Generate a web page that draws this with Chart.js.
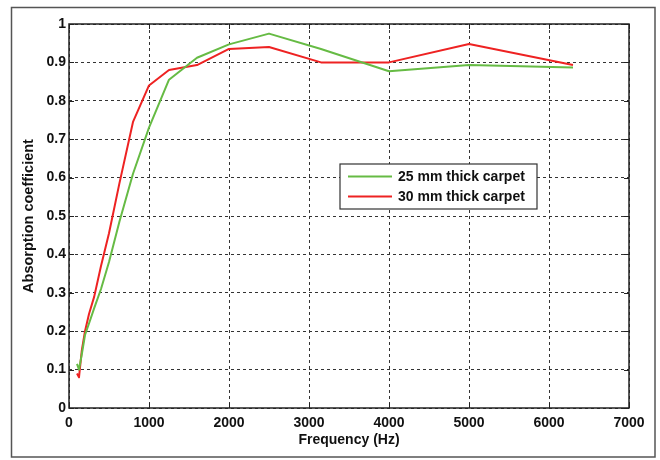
<!DOCTYPE html>
<html>
<head>
<meta charset="utf-8">
<script src="https://cdn.jsdelivr.net/npm/chart.js@4.4.0/dist/chart.umd.min.js"></script>
<style>
  html, body { margin: 0; padding: 0; background: #fff; }
  #wrap { width: 660px; height: 460px; position: relative; }
</style>
</head>
<body>
<div id="wrap"><canvas id="carpetChart" width="660" height="460"></canvas></div>
<script>
// frequencies (Hz), 1/3 octave bands
const freqs = [100, 125, 160, 200, 250, 315, 400, 500, 630, 800, 1000, 1250, 1600, 2000, 2500, 3150, 4000, 5000, 6300];
// absorption coefficients
const carpet25 = [0.115, 0.10, 0.14, 0.19, 0.22, 0.26, 0.31, 0.38, 0.485, 0.61, 0.73, 0.855, 0.912, 0.947, 0.975, 0.935, 0.877, 0.893, 0.887];
const carpet30 = [0.09, 0.08, 0.15, 0.20, 0.245, 0.29, 0.37, 0.455, 0.585, 0.745, 0.84, 0.88, 0.893, 0.935, 0.94, 0.90, 0.90, 0.948, 0.893];
const seriesLabels = ['25 mm thick carpet', '30 mm thick carpet'];
const xTicks = [0, 1000, 2000, 3000, 4000, 5000, 6000, 7000];

const FONT = '"Liberation Sans", Arial, sans-serif';

function pts(ys) { return freqs.map((f, i) => ({ x: f, y: ys[i] })); }

// frame round the figure, box and inward ticks round the plot, legend
const decor = {
  id: 'decor',
  beforeDraw(chart) {
    const c = chart.ctx;
    c.save();
    c.fillStyle = '#fff';
    c.fillRect(0, 0, chart.width, chart.height);
    c.strokeStyle = '#555';
    c.lineWidth = 1.5;
    c.strokeRect(11.5, 7.5, 643.5, 449.5);
    c.restore();
  },
  afterDraw(chart) {
    const c = chart.ctx, a = chart.chartArea;
    const xs = chart.scales.x, ys = chart.scales.y;
    c.save();
    c.strokeStyle = '#222';
    c.lineWidth = 1;
    c.beginPath();
    xs.ticks.forEach(t => {
      const px = Math.round(xs.getPixelForValue(t.value)) + 0.5;
      c.moveTo(px, a.bottom); c.lineTo(px, a.bottom - 5);
      c.moveTo(px, a.top); c.lineTo(px, a.top + 5);
    });
    ys.ticks.forEach(t => {
      const py = Math.round(ys.getPixelForValue(t.value)) + 0.5;
      c.moveTo(a.left, py); c.lineTo(a.left + 5, py);
      c.moveTo(a.right, py); c.lineTo(a.right - 5, py);
    });
    c.stroke();
    c.lineWidth = 1.5;
    c.strokeRect(a.left, a.top, a.right - a.left, a.bottom - a.top);
    // legend box
    const lx = 340, ly = 164, lw = 197, lh = 45;
    c.fillStyle = '#fff';
    c.fillRect(lx, ly, lw, lh);
    c.strokeStyle = '#333';
    c.lineWidth = 1.2;
    c.strokeRect(lx, ly, lw, lh);
    c.font = 'bold 14px ' + FONT;
    c.textBaseline = 'middle';
    chart.data.datasets.forEach((ds, i) => {
      const y = ly + 12.5 + i * 20;
      c.strokeStyle = ds.borderColor;
      c.lineWidth = 2;
      c.beginPath();
      c.moveTo(lx + 8, y);
      c.lineTo(lx + 52, y);
      c.stroke();
      c.fillStyle = '#111';
      c.fillText(ds.label, lx + 58, y + 1);
    });
    c.restore();
  }
};

new Chart(document.getElementById('carpetChart'), {
  type: 'line',
  data: {
    datasets: [
      { label: seriesLabels[0], data: pts(carpet25), borderColor: '#66bb44', borderWidth: 2, borderJoinStyle: 'round', pointRadius: 0, tension: 0 },
      { label: seriesLabels[1], data: pts(carpet30), borderColor: '#ee2222', borderWidth: 2, borderJoinStyle: 'round', pointRadius: 0, tension: 0 }
    ]
  },
  options: {
    responsive: false,
    maintainAspectRatio: false,
    animation: false,
    layout: { padding: { left: 0, right: 31, top: 24, bottom: 0 } },
    plugins: { legend: { display: false }, tooltip: { enabled: false } },
    scales: {
      x: {
        type: 'linear', min: 0, max: 7000,
        afterBuildTicks: s => { s.ticks = xTicks.map(v => ({ value: v })); },
        afterFit: s => { s.height = 52; },
        grid: { color: '#333', lineWidth: 1, drawTicks: false },
        border: { display: false, dash: [3, 3] },
        ticks: { padding: 7, color: '#111', font: { family: FONT, size: 14, weight: 'bold' }, callback: v => String(v) },
        title: { display: true, text: 'Frequency (Hz)', color: '#111', padding: { top: 0, bottom: 11 }, font: { family: FONT, size: 14, weight: 'bold' } }
      },
      y: {
        min: 0, max: 1,
        ticks: { stepSize: 0.1, padding: 3, color: '#111', font: { family: FONT, size: 14, weight: 'bold' },
          callback: v => (v === 0 || v === 1) ? String(v) : v.toFixed(1) },
        afterFit: s => { s.width = 69; },
        grid: { color: '#333', lineWidth: 1, drawTicks: false },
        border: { display: false, dash: [3, 3] },
        title: { display: true, text: 'Absorption coefficient', color: '#111', padding: { top: 20, bottom: 0 }, font: { family: FONT, size: 14.5, weight: 'bold' } }
      }
    }
  },
  plugins: [decor]
});
</script>
</body>
</html>
